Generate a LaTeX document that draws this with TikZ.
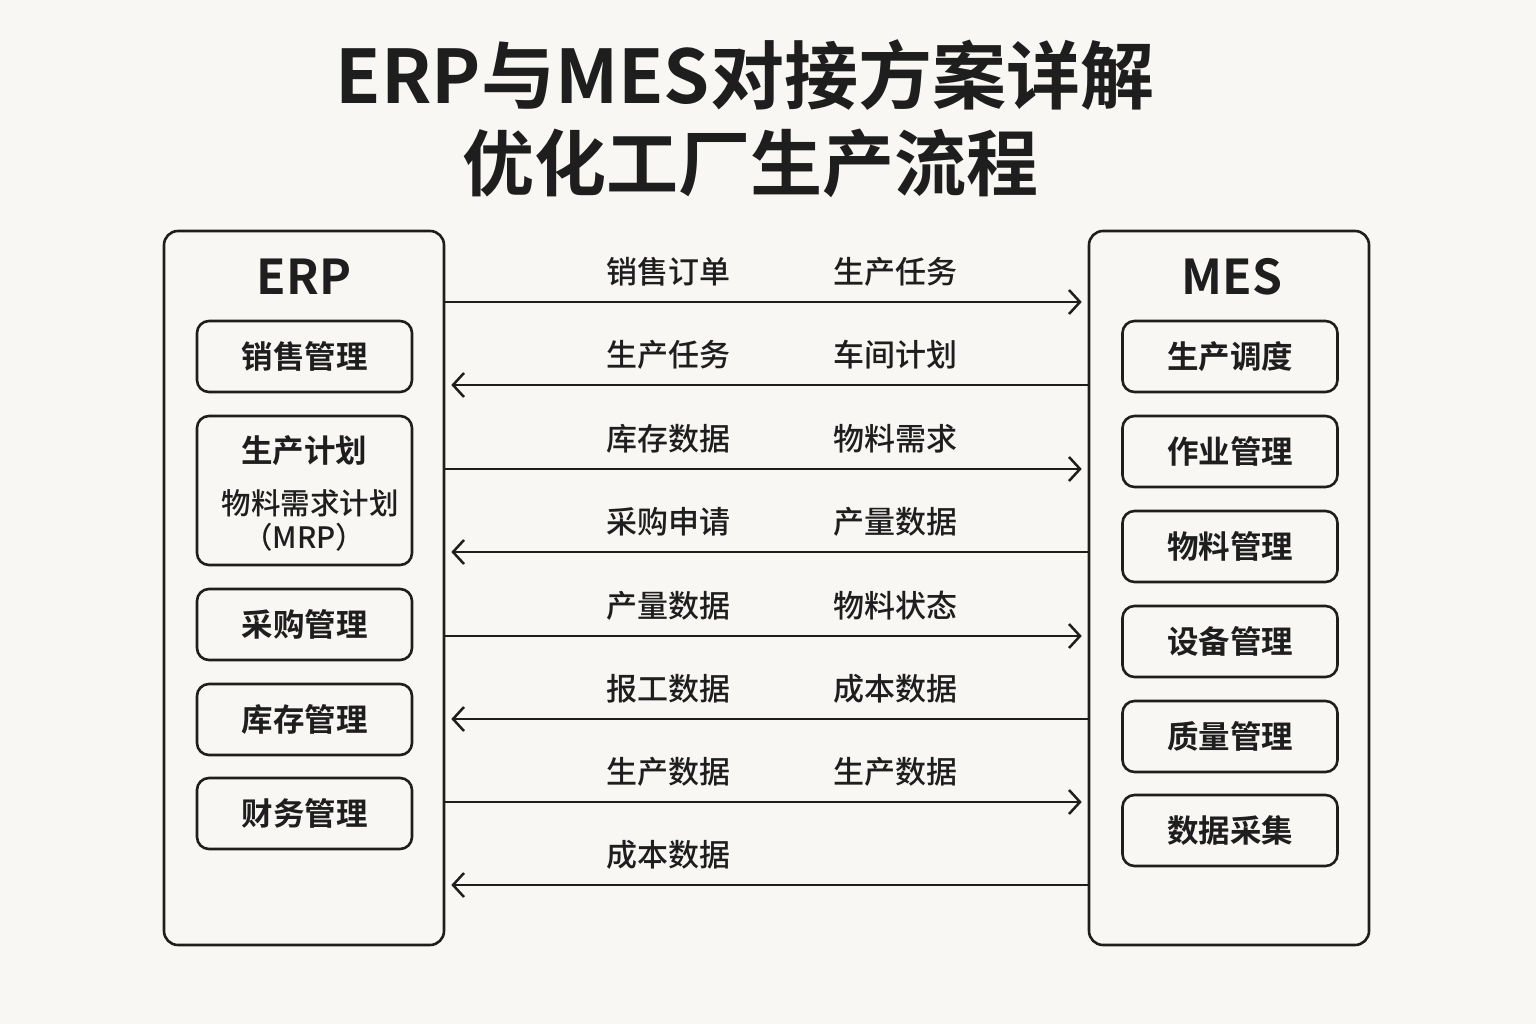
\documentclass[tikz,border=0pt]{standalone}
\usepackage{fontspec}
\setmainfont{Noto Sans CJK SC}[BoldFont={Noto Sans CJK SC Bold}]
\newfontfamily\medfont{Noto Sans CJK SC Medium}
\usetikzlibrary{arrows.meta}
\definecolor{bgc}{HTML}{F8F7F3}
\definecolor{ink}{HTML}{1E1E1E}

\begin{document}
\begin{tikzpicture}[x=1pt,y=-1pt,line cap=round,draw=ink,text=ink,
    panel/.style={draw,line width=2.6pt,rounded corners=14pt,minimum width=280pt,minimum height=714pt},
    module/.style={draw,line width=2.6pt,rounded corners=12pt,minimum width=215pt,minimum height=71pt,
        font=\bfseries\fontsize{31.5}{36}\selectfont},
    flow/.style={line width=2.5pt,-{Straight Barb[length=11pt,width=24pt,line width=2.5pt]}},
    lbl/.style={font=\medfont\fontsize{31}{36}\selectfont}]
    \useasboundingbox[fill=bgc] (0,0) rectangle (1536,1024);

    % title
    \node[font=\bfseries\fontsize{74}{80}\selectfont] (title1) at (745,75) {ERP与MES对接方案详解};
    \node[font=\bfseries\fontsize{72}{80}\selectfont] (title2) at (750,163) {优化工厂生产流程};

    % the two systems
    \node[panel] (erp) at (304,588) {};
    \node[panel] (mes) at (1229,588) {};
    \node[font=\bfseries\fontsize{48}{56}\selectfont] (erphead) at (304,277) {ERP};
    \node[font=\bfseries\fontsize{48}{56}\selectfont] (meshead) at (1232,277) {MES};

    % ERP modules
    \node[module] (sales) at (304.5,356.5) {销售管理};
    \node[module,minimum height=149pt] (plan) at (304.5,490.5) {};
    \node[font=\bfseries\fontsize{31.5}{36}\selectfont] (plantxt) at (304,451) {生产计划};
    \node[font=\medfont\fontsize{29.5}{34}\selectfont] (mrptxt) at (310,503) {物料需求计划};
    \node[font=\medfont\fontsize{29.5}{34}\selectfont] (mrpabbr) at (304,537) {（MRP）};
    \node[module] (purch) at (304.5,624.5) {采购管理};
    \node[module] (stock) at (304.5,719.5) {库存管理};
    \node[module] (fin) at (304.5,813.5) {财务管理};

    % MES modules
    \foreach \y/\txt [count=\k] in {356.5/生产调度,451.5/作业管理,546.5/物料管理,
        641.5/设备管理,736.5/质量管理,830.5/数据采集}
        \node[module] (m\k) at (1230,\y) {\txt};

    % data flows, odd rows ERP -> MES, even rows MES -> ERP
    \foreach \y/\a/\b [count=\i] in {302/销售订单/生产任务,385/生产任务/车间计划,
        469/库存数据/物料需求,552/采购申请/产量数据,636/产量数据/物料状态,
        719/报工数据/成本数据,802/生产数据/生产数据,885/成本数据/}{
        \coordinate (r\i) at (0,\y);
        \ifodd\i
            \draw[flow] (erp.east |- r\i) -- ([xshift=-6pt]mes.west |- r\i);
        \else
            \draw[flow] (mes.west |- r\i) -- ([xshift=6pt]erp.east |- r\i);
        \fi
        \node[lbl] (la\i) at (668,\y-30) {\a};
        \ifx\b\empty\else
            \node[lbl] (lb\i) at (895,\y-30) {\b};
        \fi
    }
\end{tikzpicture}
\end{document}
